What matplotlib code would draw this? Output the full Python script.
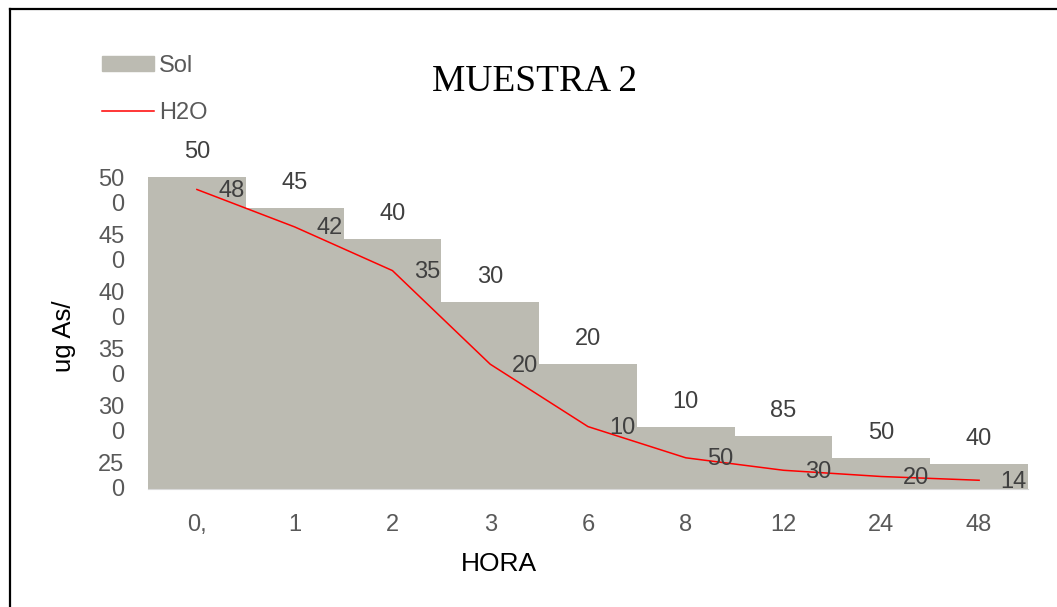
import numpy as np
import matplotlib.pyplot as plt
from matplotlib.lines import Line2D
from matplotlib.patches import Patch

plt.rcParams['font.family'] = ['Liberation Sans', 'DejaVu Sans']

# Datos
horas = ["0,", "1", "2", "3", "6", "8", "12", "24", "48"]
sol = [500, 450, 400, 300, 200, 100, 85, 50, 40]
h2o = [480, 420, 350, 200, 100, 50, 30, 20, 14]
ytick_labels = ["50\n0", "45\n0", "40\n0", "35\n0", "30\n0", "25\n0"]

W, H = 1057, 607
fig = plt.figure(figsize=(W / 100, H / 100), dpi=100)
ax = fig.add_axes([148 / W, 1 - 489 / H, 880 / W, (489 - 177) / H])

x = np.arange(len(horas))
ax.bar(x, sol, width=1.0, color='#bcbbb2', label='Sol', zorder=2)
ax.plot(x, h2o, color='#ff0000', lw=1.1, label='H2O', zorder=3)

# etiquetas de datos (recortadas a dos cifras)
for xi, v in zip(x, sol):
    ax.annotate(str(v)[:2], (xi, v), xytext=(0, 18), textcoords='offset points',
                ha='center', va='center', fontsize=17, color='#404040')
for xi, v in zip(x, h2o):
    ax.annotate(str(v)[:2], (xi, v), xytext=(25, -1), textcoords='offset points',
                ha='center', va='center', fontsize=17, color='#404040', zorder=4)

ax.set_xlim(-0.5, len(horas) - 0.5)
ax.set_ylim(0, 500)
ax.set_xticks(x)
ax.set_xticklabels(horas, fontsize=17, color='#595959')
ax.set_yticks(np.linspace(481, 25, 6))
ax.set_yticklabels(ytick_labels, fontsize=17, color='#595959')
for t in ax.get_yticklabels():
    t.set_linespacing(1.17)
    t.set_multialignment('right')
ax.tick_params(length=0)
ax.tick_params(axis='x', pad=18)
ax.tick_params(axis='y', pad=17)

for s in ['top', 'right', 'left']:
    ax.spines[s].set_visible(False)
ax.spines['bottom'].set_color('#d9d9d9')

fig.text(499 / W, 1 - 564 / H, 'HORA', ha='center', va='center', fontsize=19)
fig.text(64 / W, 1 - 336 / H, 'ug As/', rotation=90, ha='center', va='center', fontsize=18.5)

fig.text(535 / W, 1 - 82 / H, 'MUESTRA 2', ha='center', va='center',
         fontsize=27, family='Liberation Serif')

# leyenda
fig.legend(handles=[Patch(color='#bcbbb2', label='Sol'),
                    Line2D([], [], color='#ff0000', lw=1.1, label='H2O')],
           loc='upper left', bbox_to_anchor=(102 / W, 1 - 55 / H), frameon=False,
           borderpad=0, borderaxespad=0,
           fontsize=17, labelcolor='#595959', handlelength=2.2, handleheight=0.6,
           handletextpad=0.2, labelspacing=1.05)

# marco
fig.add_artist(Line2D([9.5 / W, 1], [1 - 9 / H, 1 - 9 / H], color='black', lw=1.6))
fig.add_artist(Line2D([9.5 / W, 9.5 / W], [0, 1 - 9 / H], color='black', lw=1.6))

fig.savefig('out.png', dpi=100)
